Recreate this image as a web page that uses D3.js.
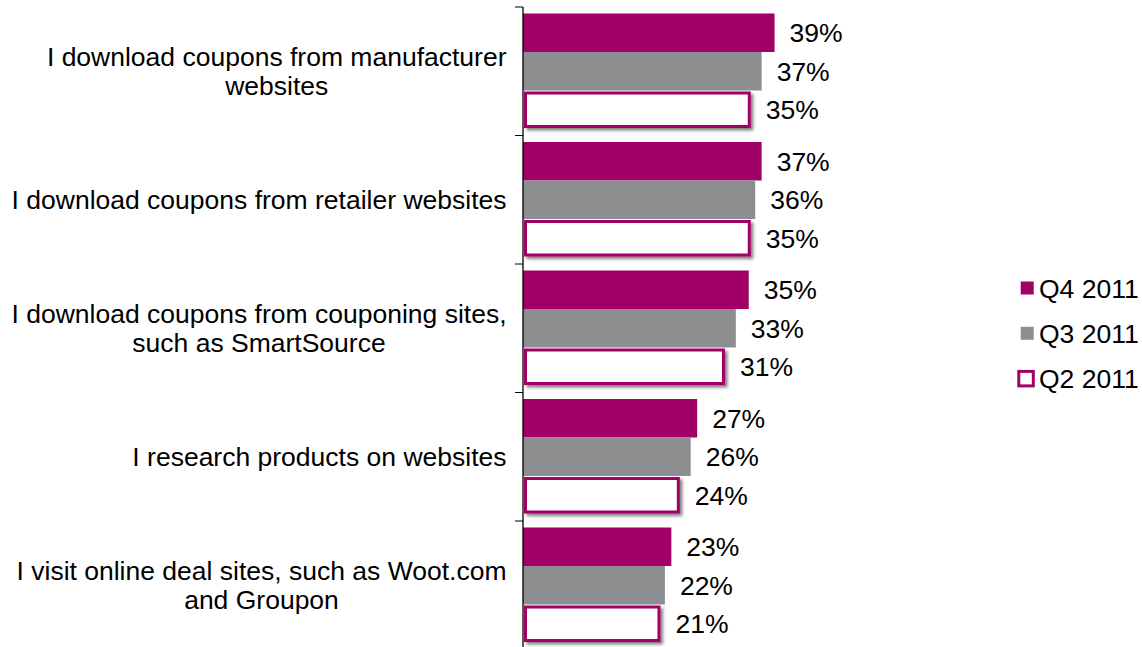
<!DOCTYPE html>
<html>
<head>
<meta charset="utf-8">
<script src="https://cdn.jsdelivr.net/npm/d3@7"></script>
<style>
  html, body { margin: 0; padding: 0; background: #fff; }
  svg { display: block; font-family: "Liberation Sans", Arial, sans-serif; }
</style>
</head>
<body>
<svg id="chart" width="1142" height="647"></svg>
<script>
// Survey answers (one entry per row; "\n" marks a line break in the label)
const categories = [
  "I download coupons from manufacturer\nwebsites",
  "I download coupons from retailer websites",
  "I download coupons from couponing sites,\nsuch as SmartSource",
  "I research products on websites",
  "I visit online deal sites, such as Woot.com\nand Groupon"
];
const seriesNames = ["Q4 2011", "Q3 2011", "Q2 2011"];
const q4Values = [39, 37, 35, 27, 23];
const q3Values = [37, 36, 33, 26, 22];
const q2Values = [35, 35, 31, 24, 21];

const seriesValues = [q4Values, q3Values, q2Values];
const MAGENTA = "#A10066";
const GRAY = "#8D8E90";
const FONT = 26.5;

const svg = d3.select("#chart");

const defs = svg.append("defs");
const shadow = defs.append("filter").attr("id", "barShadow")
  .attr("x", "-5%").attr("y", "-20%").attr("width", "115%").attr("height", "150%");
shadow.append("feDropShadow")
  .attr("dx", 2.5).attr("dy", 2.5).attr("stdDeviation", 1.5)
  .attr("flood-color", "#000").attr("flood-opacity", 0.5);

// Scales
const y0 = d3.scaleBand().domain(categories).range([7, 7 + 128.5 * categories.length]);
const y1 = d3.scaleBand().domain(seriesNames).range([6.5, y0.bandwidth() - 6.5]);
const x = d3.scaleLinear().domain([0, 100]).range([523, 1168]);

const rows = categories.map((c, i) => ({
  category: c,
  bars: seriesNames.map((s, k) => ({ series: s, value: seriesValues[k][i] }))
}));

const groups = svg.append("g").selectAll("g.row").data(rows).join("g")
  .attr("class", "row")
  .attr("transform", d => `translate(0,${y0(d.category)})`);

// Bars and value labels
groups.each(function (d) {
  const g = d3.select(this);
  d.bars.forEach(b => {
    const y = y1(b.series), h = y1.bandwidth();
    if (b.series === "Q2 2011") {
      g.append("rect")
        .attr("x", x(0) + 2.5)
        .attr("y", y + 2.5)
        .attr("width", x(b.value) - x(0) - 2)
        .attr("height", h - 5)
        .attr("fill", "#fff")
        .attr("stroke", MAGENTA)
        .attr("stroke-width", 3)
        .attr("filter", "url(#barShadow)");
    } else {
      g.append("rect")
        .attr("x", x(0))
        .attr("y", y)
        .attr("width", x(b.value) - x(0))
        .attr("height", h)
        .attr("fill", b.series === "Q4 2011" ? MAGENTA : GRAY);
    }
    g.append("text")
      .attr("x", x(b.value) + (b.series === "Q2 2011" ? 17 : 15))
      .attr("y", y + h / 2 + 9.5)
      .attr("font-size", FONT)
      .attr("fill", "#000")
      .text(b.value + "%");
  });
});

// Category labels: block right-aligned to the axis, lines centred within it
groups.each(function (d) {
  const lines = d.category.split("\n");
  const center = y0.bandwidth() / 2;
  const lh = 29;
  const right = 506.5;
  const t = d3.select(this).append("text")
    .attr("text-anchor", "middle")
    .attr("font-size", FONT)
    .attr("fill", "#000");
  const spans = lines.map((ln, j) =>
    t.append("tspan")
      .attr("x", 0)
      .attr("y", center + 9.5 - (lines.length - 1) * lh / 2 + j * lh)
      .text(ln));
  const maxW = d3.max(spans, s => s.node().getComputedTextLength());
  spans.forEach(s => s.attr("x", right - maxW / 2));
});

// Category axis with ticks at band boundaries
const axis = svg.append("g");
axis.append("line")
  .attr("x1", x(0)).attr("x2", x(0))
  .attr("y1", y0.range()[0]).attr("y2", 660)
  .attr("stroke", "#000").attr("stroke-width", 1.3);
const bounds = categories.map(c => y0(c)).concat([y0.range()[1]]);
axis.selectAll("line.tick").data(bounds).join("line")
  .attr("class", "tick")
  .attr("x1", x(0) - 8).attr("x2", x(0))
  .attr("y1", d => d).attr("y2", d => d)
  .attr("stroke", "#000").attr("stroke-width", 1);

// Legend
const legend = svg.append("g");
seriesNames.forEach((s, k) => {
  const cy = 288 + k * 45.3;
  if (s === "Q2 2011") {
    legend.append("rect")
      .attr("x", 1018.8).attr("y", cy - 7.2)
      .attr("width", 14.5).attr("height", 14.5)
      .attr("fill", "#fff").attr("stroke", MAGENTA).attr("stroke-width", 3);
  } else {
    legend.append("rect")
      .attr("x", 1020.7).attr("y", cy - 6.5)
      .attr("width", 13).attr("height", 13)
      .attr("fill", k === 0 ? MAGENTA : GRAY);
  }
  legend.append("text")
    .attr("x", 1039).attr("y", cy + 9.5)
    .attr("font-size", FONT).attr("fill", "#000")
    .text(s);
});
</script>
</body>
</html>
